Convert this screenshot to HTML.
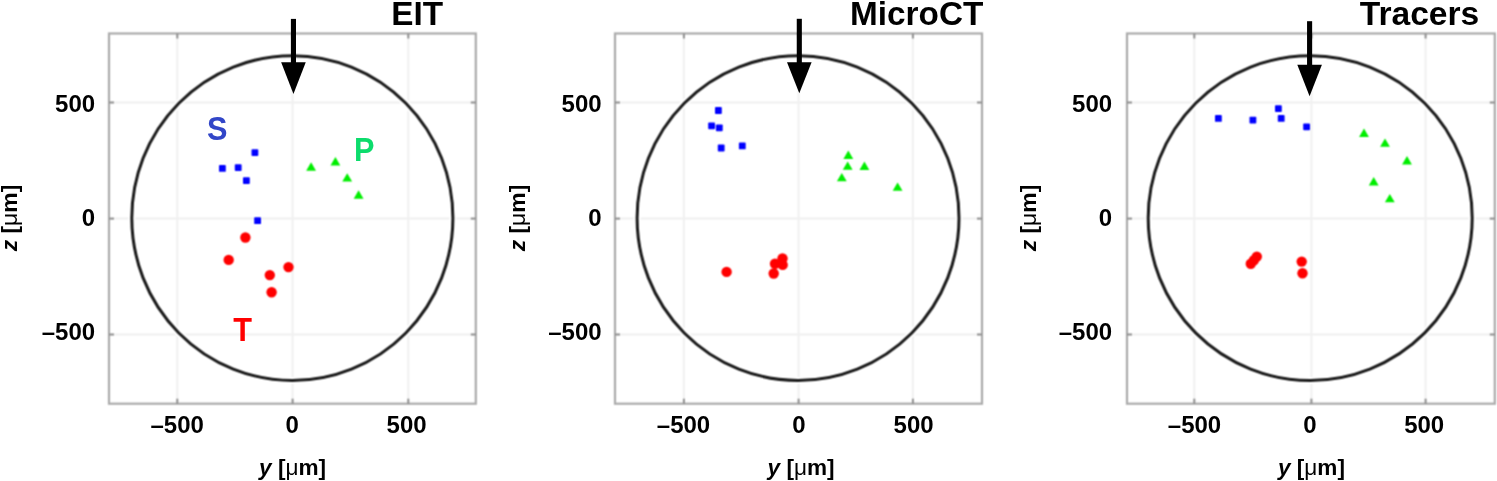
<!DOCTYPE html><html><head><meta charset="utf-8"><style>html,body{margin:0;padding:0;background:#fff;width:1497px;height:481px;overflow:hidden}svg{display:block;will-change:transform;}text{font-family:"Liberation Sans",sans-serif;font-weight:bold}</style></head><body>
<svg width="1497" height="481" viewBox="0 0 1497 481">
<defs><filter id="bl" x="0" y="0" width="1497" height="481" filterUnits="userSpaceOnUse" color-interpolation-filters="sRGB"><feConvolveMatrix order="3" kernelMatrix="1 2 1 2 4 2 1 2 1" divisor="16" edgeMode="duplicate" preserveAlpha="false"/></filter></defs>
<rect width="1497" height="481" fill="#fff"/>
<g filter="url(#bl)">
<line x1="177.3" y1="33.5" x2="177.3" y2="403.7" stroke="#f0f0f0" stroke-width="2"/>
<line x1="292.6" y1="33.5" x2="292.6" y2="403.7" stroke="#f0f0f0" stroke-width="2"/>
<line x1="408.3" y1="33.5" x2="408.3" y2="403.7" stroke="#f0f0f0" stroke-width="2"/>
<line x1="109.0" y1="102.5" x2="475.8" y2="102.5" stroke="#f0f0f0" stroke-width="2"/>
<line x1="109.0" y1="218.6" x2="475.8" y2="218.6" stroke="#f0f0f0" stroke-width="2"/>
<line x1="109.0" y1="334.5" x2="475.8" y2="334.5" stroke="#f0f0f0" stroke-width="2"/>
<rect x="109.0" y="33.5" width="366.8" height="370.2" fill="none" stroke="#ababab" stroke-width="2.2"/>
<line x1="177.3" y1="403.7" x2="177.3" y2="398.7" stroke="#909090" stroke-width="2"/>
<line x1="177.3" y1="33.5" x2="177.3" y2="38.5" stroke="#909090" stroke-width="2"/>
<line x1="292.6" y1="403.7" x2="292.6" y2="398.7" stroke="#909090" stroke-width="2"/>
<line x1="292.6" y1="33.5" x2="292.6" y2="38.5" stroke="#909090" stroke-width="2"/>
<line x1="408.3" y1="403.7" x2="408.3" y2="398.7" stroke="#909090" stroke-width="2"/>
<line x1="408.3" y1="33.5" x2="408.3" y2="38.5" stroke="#909090" stroke-width="2"/>
<line x1="109.0" y1="102.5" x2="114.0" y2="102.5" stroke="#909090" stroke-width="2"/>
<line x1="475.8" y1="102.5" x2="470.8" y2="102.5" stroke="#909090" stroke-width="2"/>
<line x1="109.0" y1="218.6" x2="114.0" y2="218.6" stroke="#909090" stroke-width="2"/>
<line x1="475.8" y1="218.6" x2="470.8" y2="218.6" stroke="#909090" stroke-width="2"/>
<line x1="109.0" y1="334.5" x2="114.0" y2="334.5" stroke="#909090" stroke-width="2"/>
<line x1="475.8" y1="334.5" x2="470.8" y2="334.5" stroke="#909090" stroke-width="2"/>
<ellipse cx="292.35" cy="218.1" rx="160.55" ry="162.4" fill="none" stroke="#fff" stroke-width="7"/>
<ellipse cx="292.35" cy="218.1" rx="160.55" ry="162.4" fill="none" stroke="#1c1c1c" stroke-width="3"/>
<rect x="251.5" y="149.2" width="6.8" height="6.8" rx="0.9" fill="#0000ff"/>
<rect x="219.0" y="165.0" width="6.8" height="6.8" rx="0.9" fill="#0000ff"/>
<rect x="234.8" y="164.2" width="6.8" height="6.8" rx="0.9" fill="#0000ff"/>
<rect x="243.0" y="177.2" width="6.8" height="6.8" rx="0.9" fill="#0000ff"/>
<rect x="254.2" y="217.3" width="6.8" height="6.8" rx="0.9" fill="#0000ff"/>
<path d="M311.1,162.3 L316.0,170.7 L306.2,170.7 Z" fill="#00ee00"/>
<path d="M335.4,157.0 L340.3,165.4 L330.5,165.4 Z" fill="#00ee00"/>
<path d="M347.2,173.2 L352.1,181.6 L342.3,181.6 Z" fill="#00ee00"/>
<path d="M358.6,190.3 L363.5,198.7 L353.7,198.7 Z" fill="#00ee00"/>
<circle cx="245.4" cy="237.5" r="5.2" fill="#ff0000"/>
<circle cx="228.7" cy="259.9" r="5.2" fill="#ff0000"/>
<circle cx="288.5" cy="267.1" r="5.2" fill="#ff0000"/>
<circle cx="269.8" cy="275.1" r="5.2" fill="#ff0000"/>
<circle cx="271.6" cy="292.3" r="5.2" fill="#ff0000"/>
<line x1="683.9" y1="33.5" x2="683.9" y2="403.7" stroke="#f0f0f0" stroke-width="2"/>
<line x1="798.6" y1="33.5" x2="798.6" y2="403.7" stroke="#f0f0f0" stroke-width="2"/>
<line x1="912.9" y1="33.5" x2="912.9" y2="403.7" stroke="#f0f0f0" stroke-width="2"/>
<line x1="615.0" y1="102.5" x2="982.0" y2="102.5" stroke="#f0f0f0" stroke-width="2"/>
<line x1="615.0" y1="218.6" x2="982.0" y2="218.6" stroke="#f0f0f0" stroke-width="2"/>
<line x1="615.0" y1="334.5" x2="982.0" y2="334.5" stroke="#f0f0f0" stroke-width="2"/>
<rect x="615.0" y="33.5" width="367.0" height="370.2" fill="none" stroke="#ababab" stroke-width="2.2"/>
<line x1="683.9" y1="403.7" x2="683.9" y2="398.7" stroke="#909090" stroke-width="2"/>
<line x1="683.9" y1="33.5" x2="683.9" y2="38.5" stroke="#909090" stroke-width="2"/>
<line x1="798.6" y1="403.7" x2="798.6" y2="398.7" stroke="#909090" stroke-width="2"/>
<line x1="798.6" y1="33.5" x2="798.6" y2="38.5" stroke="#909090" stroke-width="2"/>
<line x1="912.9" y1="403.7" x2="912.9" y2="398.7" stroke="#909090" stroke-width="2"/>
<line x1="912.9" y1="33.5" x2="912.9" y2="38.5" stroke="#909090" stroke-width="2"/>
<line x1="615.0" y1="102.5" x2="620.0" y2="102.5" stroke="#909090" stroke-width="2"/>
<line x1="982.0" y1="102.5" x2="977.0" y2="102.5" stroke="#909090" stroke-width="2"/>
<line x1="615.0" y1="218.6" x2="620.0" y2="218.6" stroke="#909090" stroke-width="2"/>
<line x1="982.0" y1="218.6" x2="977.0" y2="218.6" stroke="#909090" stroke-width="2"/>
<line x1="615.0" y1="334.5" x2="620.0" y2="334.5" stroke="#909090" stroke-width="2"/>
<line x1="982.0" y1="334.5" x2="977.0" y2="334.5" stroke="#909090" stroke-width="2"/>
<ellipse cx="798.05" cy="218.1" rx="160.95" ry="162.4" fill="none" stroke="#fff" stroke-width="7"/>
<ellipse cx="798.05" cy="218.1" rx="160.95" ry="162.4" fill="none" stroke="#1c1c1c" stroke-width="3"/>
<rect x="715.0" y="107.1" width="6.8" height="6.8" rx="0.9" fill="#0000ff"/>
<rect x="708.2" y="122.4" width="6.8" height="6.8" rx="0.9" fill="#0000ff"/>
<rect x="715.9" y="124.4" width="6.8" height="6.8" rx="0.9" fill="#0000ff"/>
<rect x="717.8" y="144.6" width="6.8" height="6.8" rx="0.9" fill="#0000ff"/>
<rect x="738.9" y="142.5" width="6.8" height="6.8" rx="0.9" fill="#0000ff"/>
<path d="M848.3,150.6 L853.2,159.0 L843.4,159.0 Z" fill="#00ee00"/>
<path d="M847.7,161.4 L852.6,169.8 L842.8,169.8 Z" fill="#00ee00"/>
<path d="M864.4,161.6 L869.3,170.0 L859.5,170.0 Z" fill="#00ee00"/>
<path d="M841.8,172.9 L846.7,181.3 L836.9,181.3 Z" fill="#00ee00"/>
<path d="M897.6,182.4 L902.5,190.8 L892.7,190.8 Z" fill="#00ee00"/>
<circle cx="726.6" cy="271.9" r="5.2" fill="#ff0000"/>
<circle cx="782.5" cy="258.5" r="5.2" fill="#ff0000"/>
<circle cx="775.0" cy="263.7" r="5.2" fill="#ff0000"/>
<circle cx="782.7" cy="264.9" r="5.2" fill="#ff0000"/>
<circle cx="773.7" cy="273.5" r="5.2" fill="#ff0000"/>
<line x1="1194.3" y1="33.5" x2="1194.3" y2="403.7" stroke="#f0f0f0" stroke-width="2"/>
<line x1="1311.4" y1="33.5" x2="1311.4" y2="403.7" stroke="#f0f0f0" stroke-width="2"/>
<line x1="1425.6" y1="33.5" x2="1425.6" y2="403.7" stroke="#f0f0f0" stroke-width="2"/>
<line x1="1127.0" y1="102.5" x2="1494.8" y2="102.5" stroke="#f0f0f0" stroke-width="2"/>
<line x1="1127.0" y1="218.6" x2="1494.8" y2="218.6" stroke="#f0f0f0" stroke-width="2"/>
<line x1="1127.0" y1="334.5" x2="1494.8" y2="334.5" stroke="#f0f0f0" stroke-width="2"/>
<rect x="1127.0" y="33.5" width="367.8" height="370.2" fill="none" stroke="#ababab" stroke-width="2.2"/>
<line x1="1194.3" y1="403.7" x2="1194.3" y2="398.7" stroke="#909090" stroke-width="2"/>
<line x1="1194.3" y1="33.5" x2="1194.3" y2="38.5" stroke="#909090" stroke-width="2"/>
<line x1="1311.4" y1="403.7" x2="1311.4" y2="398.7" stroke="#909090" stroke-width="2"/>
<line x1="1311.4" y1="33.5" x2="1311.4" y2="38.5" stroke="#909090" stroke-width="2"/>
<line x1="1425.6" y1="403.7" x2="1425.6" y2="398.7" stroke="#909090" stroke-width="2"/>
<line x1="1425.6" y1="33.5" x2="1425.6" y2="38.5" stroke="#909090" stroke-width="2"/>
<line x1="1127.0" y1="102.5" x2="1132.0" y2="102.5" stroke="#909090" stroke-width="2"/>
<line x1="1494.8" y1="102.5" x2="1489.8" y2="102.5" stroke="#909090" stroke-width="2"/>
<line x1="1127.0" y1="218.6" x2="1132.0" y2="218.6" stroke="#909090" stroke-width="2"/>
<line x1="1494.8" y1="218.6" x2="1489.8" y2="218.6" stroke="#909090" stroke-width="2"/>
<line x1="1127.0" y1="334.5" x2="1132.0" y2="334.5" stroke="#909090" stroke-width="2"/>
<line x1="1494.8" y1="334.5" x2="1489.8" y2="334.5" stroke="#909090" stroke-width="2"/>
<ellipse cx="1310.20" cy="218.1" rx="162.00" ry="162.4" fill="none" stroke="#fff" stroke-width="7"/>
<ellipse cx="1310.20" cy="218.1" rx="162.00" ry="162.4" fill="none" stroke="#1c1c1c" stroke-width="3"/>
<rect x="1215.0" y="115.0" width="6.8" height="6.8" rx="0.9" fill="#0000ff"/>
<rect x="1249.5" y="116.7" width="6.8" height="6.8" rx="0.9" fill="#0000ff"/>
<rect x="1275.0" y="105.2" width="6.8" height="6.8" rx="0.9" fill="#0000ff"/>
<rect x="1277.8" y="115.0" width="6.8" height="6.8" rx="0.9" fill="#0000ff"/>
<rect x="1303.2" y="123.4" width="6.8" height="6.8" rx="0.9" fill="#0000ff"/>
<path d="M1364.0,128.5 L1368.9,136.9 L1359.1,136.9 Z" fill="#00ee00"/>
<path d="M1385.0,138.4 L1389.9,146.8 L1380.1,146.8 Z" fill="#00ee00"/>
<path d="M1407.0,156.1 L1411.9,164.5 L1402.1,164.5 Z" fill="#00ee00"/>
<path d="M1373.7,177.1 L1378.6,185.5 L1368.8,185.5 Z" fill="#00ee00"/>
<path d="M1389.8,193.9 L1394.7,202.3 L1384.9,202.3 Z" fill="#00ee00"/>
<circle cx="1250.8" cy="263.7" r="5.2" fill="#ff0000"/>
<circle cx="1256.8" cy="256.6" r="5.2" fill="#ff0000"/>
<circle cx="1253.9" cy="260.3" r="5.2" fill="#ff0000"/>
<circle cx="1301.7" cy="261.6" r="5.2" fill="#ff0000"/>
<circle cx="1302.5" cy="273.3" r="5.2" fill="#ff0000"/>
</g>
<rect x="290.90" y="18.9" width="5.1" height="46.3" fill="#000"/>
<path d="M281.15,62.2 L305.75,62.2 L293.45,94.0 Z" fill="#000"/>
<text x="177.2" y="433.3" font-size="24" text-anchor="middle">–500</text>
<text x="292.2" y="433.3" font-size="24" text-anchor="middle">0</text>
<text x="406.6" y="433.3" font-size="24" text-anchor="middle">500</text>
<text x="95.1" y="111.75" font-size="24" text-anchor="end">500</text>
<text x="95.1" y="225.75" font-size="24" text-anchor="end">0</text>
<text x="95.1" y="340.05" font-size="24" text-anchor="end">–500</text>
<text x="391.3" y="24.7" font-size="33.3">EIT</text>
<text x="292.6" y="474.8" font-size="22.6" text-anchor="middle"><tspan font-style="italic">y</tspan> [<tspan font-weight="normal">μ</tspan>m]</text>
<text transform="translate(16.6,218.0) rotate(-90)" x="0" y="0" font-size="22.9" text-anchor="middle"><tspan font-style="italic">z</tspan> [<tspan font-weight="normal">μ</tspan>m]</text>
<rect x="796.75" y="18.8" width="5.1" height="46.5" fill="#000"/>
<path d="M787.00,62.3 L811.60,62.3 L799.30,93.2 Z" fill="#000"/>
<text x="683.5" y="433.3" font-size="24" text-anchor="middle">–500</text>
<text x="799.0" y="433.3" font-size="24" text-anchor="middle">0</text>
<text x="913.6" y="433.3" font-size="24" text-anchor="middle">500</text>
<text x="601.6" y="111.75" font-size="24" text-anchor="end">500</text>
<text x="601.6" y="225.75" font-size="24" text-anchor="end">0</text>
<text x="601.6" y="340.05" font-size="24" text-anchor="end">–500</text>
<text x="850.1" y="24.7" font-size="33.3">MicroCT</text>
<text x="801.1" y="474.8" font-size="22.6" text-anchor="middle"><tspan font-style="italic">y</tspan> [<tspan font-weight="normal">μ</tspan>m]</text>
<text transform="translate(524.9,218.0) rotate(-90)" x="0" y="0" font-size="22.9" text-anchor="middle"><tspan font-style="italic">z</tspan> [<tspan font-weight="normal">μ</tspan>m]</text>
<rect x="1307.05" y="21.2" width="5.1" height="46.6" fill="#000"/>
<path d="M1297.30,64.8 L1321.90,64.8 L1309.60,96.2 Z" fill="#000"/>
<text x="1194.5" y="433.3" font-size="24" text-anchor="middle">–500</text>
<text x="1309.9" y="433.3" font-size="24" text-anchor="middle">0</text>
<text x="1424.2" y="433.3" font-size="24" text-anchor="middle">500</text>
<text x="1112.1" y="111.75" font-size="24" text-anchor="end">500</text>
<text x="1112.1" y="225.75" font-size="24" text-anchor="end">0</text>
<text x="1112.1" y="340.05" font-size="24" text-anchor="end">–500</text>
<text x="1359.8" y="24.7" font-size="33.6">Tracers</text>
<text x="1311.4" y="474.8" font-size="22.6" text-anchor="middle"><tspan font-style="italic">y</tspan> [<tspan font-weight="normal">μ</tspan>m]</text>
<text transform="translate(1035.9,218.0) rotate(-90)" x="0" y="0" font-size="22.9" text-anchor="middle"><tspan font-style="italic">z</tspan> [<tspan font-weight="normal">μ</tspan>m]</text>
<text transform="translate(206.9,139.9) scale(0.95,1)" font-size="32.3" fill="#3246c8">S</text>
<text transform="translate(353.95,160.8) scale(0.95,1)" font-size="32.3" fill="#0cdc6c">P</text>
<text transform="translate(233.16,341.4) scale(0.95,1)" font-size="32.3" fill="#ff0000">T</text>
</svg></body></html>
